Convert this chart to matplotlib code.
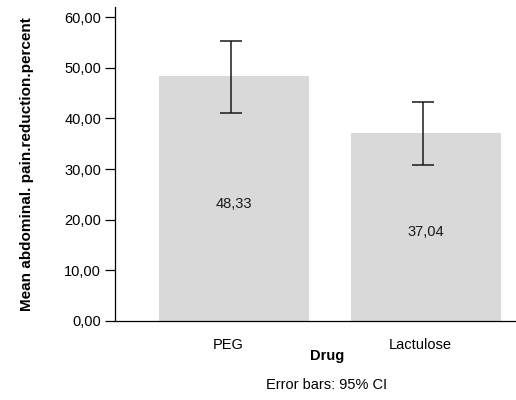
import matplotlib
matplotlib.use("Agg")
import matplotlib.pyplot as plt
import numpy as np

plt.rcParams['font.family'] = ['Liberation Sans', 'DejaVu Sans']

categories = ["PEG", "Lactulose"]
means = [48.33, 37.04]
ci_low = [41.0, 30.9]
ci_high = [55.3, 43.2]
yticks = [0, 10, 20, 30, 40, 50, 60]

fig = plt.figure(figsize=(5.16, 4.0), dpi=100)
ax = fig.add_axes([115/516, 79/400, 401/516, 314/400])

x = np.arange(len(categories))
ax.bar(x, means, width=0.78, color="#d9d9d9", zorder=1)
means_a = np.array(means)
yerr = np.vstack([means_a - np.array(ci_low), np.array(ci_high) - means_a])
ax.errorbar(x - 0.015, means, yerr=yerr, fmt='none', ecolor='#1a1a1a',
            elinewidth=1.1, capsize=8, capthick=1.1, zorder=3)

for xi, m in zip(x, means):
    ax.text(xi, m / 2 - 1.0, f"{m:.2f}".replace('.', ','), ha='center', va='center',
            fontsize=10.5, color='#1a1a1a')

ax.set_xlim(-0.62, 1.47)
ax.set_ylim(0, 62)
ax.set_yticks(yticks)
ax.set_yticklabels([f"{v:.2f}".replace('.', ',') for v in yticks], fontsize=10.5)
ax.set_xticks(x - 0.03)
ax.set_xticklabels(categories, fontsize=10.5)
ax.tick_params(axis='x', length=0, pad=12)
ax.tick_params(axis='y', length=7, width=0.9, pad=3)
for s in ['top', 'right']:
    ax.spines[s].set_visible(False)
ax.spines['left'].set_linewidth(0.9)
ax.spines['bottom'].set_linewidth(0.9)

ax.set_ylabel("Mean abdominal. pain.reduction.percent", fontsize=11, fontweight='bold', labelpad=22)
ax.text(0.528, -0.11, "Drug", transform=ax.transAxes, ha='center', va='center',
        fontsize=10.5, fontweight='bold')
ax.text(0.528, -0.205, "Error bars: 95% CI", transform=ax.transAxes, ha='center', va='center',
        fontsize=10.5)

fig.savefig("out.png", dpi=100)
